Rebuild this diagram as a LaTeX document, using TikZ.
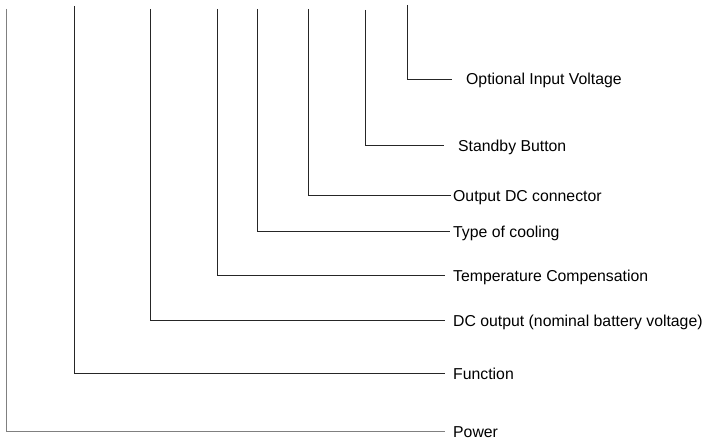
\documentclass[tikz,border=0pt]{standalone}
\usepackage{fontspec}
\setmainfont{Liberation Sans}
\usepackage{tikz}

\begin{document}
\begin{tikzpicture}[
  x=1pt, y=-1pt,
  lbl/.style={anchor=west, inner sep=0pt, inner xsep=8pt,
              text height=12pt, text depth=0pt,
              font=\fontsize{15.8}{18}\selectfont},
  lead/.style={line width=0.9pt, color=black!85}
]
  \useasboundingbox (0,0) rectangle (704,441);

  \node[lbl] (pw)   at (445,431) {Power};
  \node[lbl] (fn)   at (445,373) {Function};
  \node[lbl] (dco)  at (445,320) {DC output (nominal battery voltage)};
  \node[lbl] (tc)   at (445,275) {Temperature Compensation};
  \node[lbl, inner xsep=3pt]  (cool) at (450,231) {Type of cooling};
  \node[lbl, inner xsep=2pt]  (odc)  at (451,195) {Output DC connector};
  \node[lbl, inner xsep=14pt] (sb)   at (444,145) {Standby Button};
  \node[lbl, inner xsep=14pt] (oiv)  at (452,79)  {Optional Input Voltage};

  \coordinate (pw-top)   at (6,9);
  \coordinate (fn-top)   at (74,6);
  \coordinate (dco-top)  at (150,9);
  \coordinate (tc-top)   at (217,9);
  \coordinate (cool-top) at (257,9);
  \coordinate (odc-top)  at (308,9);
  \coordinate (sb-top)   at (365,10);
  \coordinate (oiv-top)  at (407,5);

  \draw[lead, color=black!50] (pw-top) |- (pw.west);
  \draw[lead] (fn-top)   |- (fn.west);
  \draw[lead] (dco-top)  |- (dco.west);
  \draw[lead] (tc-top)   |- (tc.west);
  \draw[lead] (cool-top) |- (cool.west);
  \draw[lead] (odc-top)  |- (odc.west);
  \draw[lead] (sb-top)   |- (sb.west);
  \draw[lead] (oiv-top)  |- (oiv.west);
\end{tikzpicture}
\end{document}
